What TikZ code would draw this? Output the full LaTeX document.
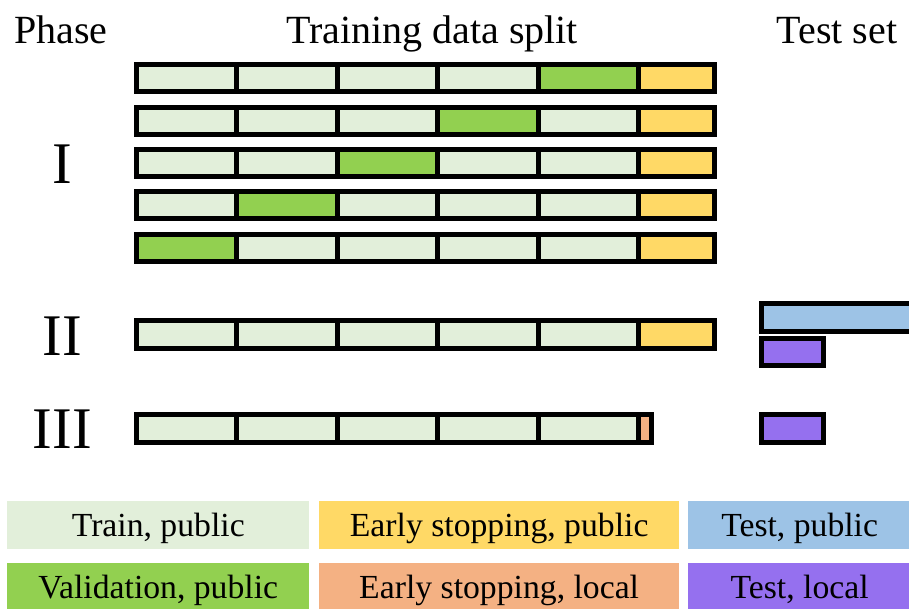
\documentclass[tikz,border=0pt]{standalone}
\usepackage{fontspec}
\setmainfont{Liberation Serif}

\definecolor{trainc}{HTML}{E2EFDA}
\definecolor{validc}{HTML}{92D050}
\definecolor{earlypub}{HTML}{FFD966}
\definecolor{earlyloc}{HTML}{F4B183}
\definecolor{testpub}{HTML}{9DC3E6}
\definecolor{testloc}{HTML}{9570EF}

\tikzset{
  frame/.style={draw=black, line width=5pt, line join=miter},
  header/.style={anchor=base, inner sep=0pt, font=\fontsize{40}{48}\selectfont},
  phase/.style={anchor=base, inner sep=0pt, font=\fontsize{59}{70}\selectfont},
  legend/.style={rectangle, inner sep=0pt, minimum height=48pt,
    text height=23pt, text depth=0pt, font=\fontsize{33.7}{40}\selectfont},
}

% One split bar: #1 top line, #2 bottom line, #3 validation fold (9 = none),
% #4 right end, #5 colour of the early-stopping part
\newcommand{\splitbar}[5]{%
  \foreach \k in {0,...,4}{%
    \pgfmathsetmacro{\xa}{136.5+100.4*\k}%
    \pgfmathsetmacro{\xb}{136.5+100.4*(\k+1)}%
    \ifnum\k=#3\relax\def\cellcol{validc}\else\def\cellcol{trainc}\fi
    \fill[\cellcol] (\xa,#1) rectangle (\xb,#2);
  }
  \fill[#5] (638.5,#1) rectangle (#4,#2);
  \draw[frame] (136.5,#1) rectangle (#4,#2);
  \foreach \k in {1,...,5}{%
    \draw[frame] ({136.5+100.4*\k},#1) -- ({136.5+100.4*\k},#2);
  }
}

\begin{document}
\begin{tikzpicture}[x=1pt, y=-1pt]
\useasboundingbox (0,0) rectangle (909,609);
\clip (0,0) rectangle (909,609);

% column headers
\node[header] (hphase) at (60.7,44) {Phase};
\node[header] (hsplit) at (432,44) {Training data split};
\node[header] (htest)  at (837,44) {Test set};

% phase labels
\node[phase] (p1) at (62.4,184) {I};
\node[phase] (p2) at (62.4,355) {II};
\node[phase] (p3) at (62.4,448) {III};

% phase I: five folds
\splitbar{64.8}{91.8}{4}{714.5}{earlypub}
\splitbar{107.15}{134.15}{3}{714.5}{earlypub}
\splitbar{149.5}{176.5}{2}{714.5}{earlypub}
\splitbar{191.85}{218.85}{1}{714.5}{earlypub}
\splitbar{234.2}{261.2}{0}{714.5}{earlypub}

% phase II
\splitbar{320.8}{348.5}{9}{714.5}{earlypub}
% phase III
\splitbar{414.8}{442.5}{9}{651.5}{earlyloc}

% test sets
\filldraw[frame, fill=testpub] (761.8,303.5) rectangle (915,331.2);
\filldraw[frame, fill=testloc] (761.8,338.2) rectangle (823.5,365.8);
\filldraw[frame, fill=testloc] (761.8,414.8) rectangle (823.5,442.5);

% legend
\node[legend, fill=trainc,   minimum width=302pt]   (ltrain) at (158.3,524.7) {Train, public};
\node[legend, fill=validc,   minimum width=302pt]   (lvalid) at (158.3,586.7) {Validation, public};
\node[legend, fill=earlypub, minimum width=359.7pt] (lepub)  at (499.15,524.7) {Early stopping, public};
\node[legend, fill=earlyloc, minimum width=359.7pt] (leloc)  at (499.15,586.7) {Early stopping, local};
\node[legend, fill=testpub,  minimum width=222.7pt] (ltpub)  at (799.65,524.7) {Test, public};
\node[legend, fill=testloc,  minimum width=222.7pt] (ltloc)  at (799.65,586.7) {Test, local};
\end{tikzpicture}
\end{document}
